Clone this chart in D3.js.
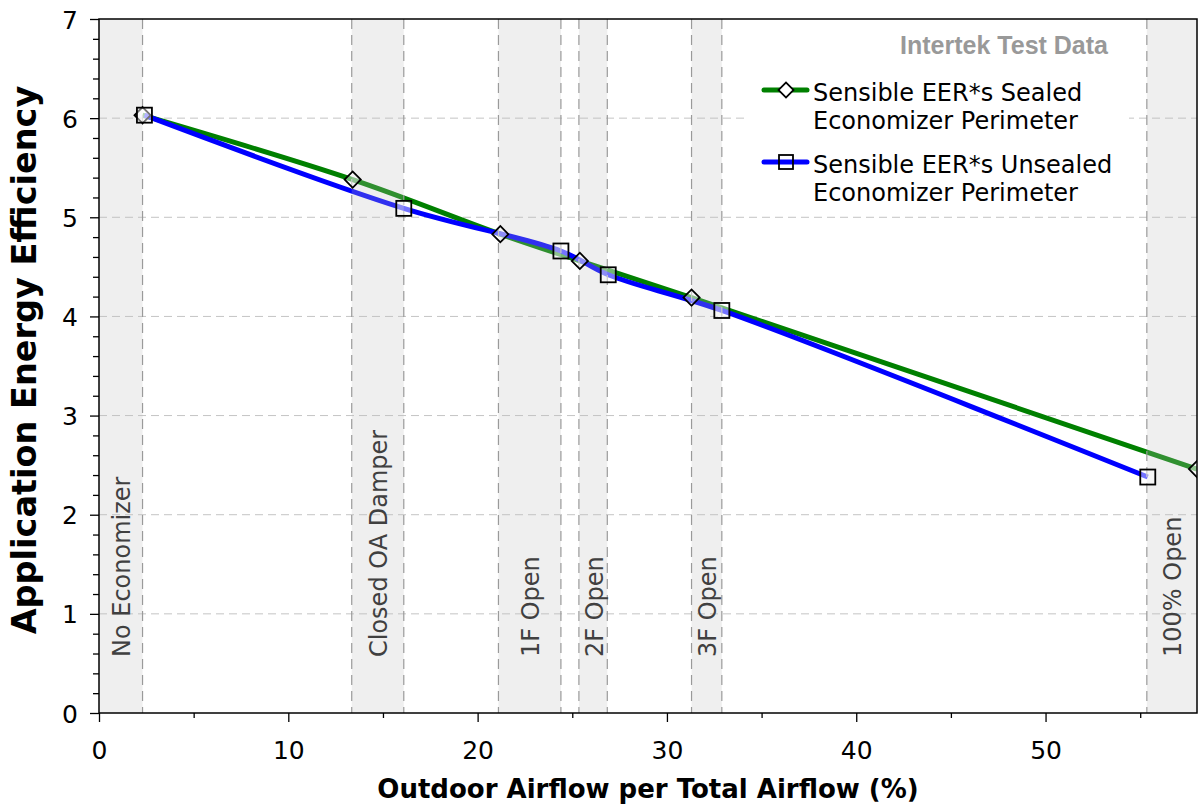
<!DOCTYPE html>
<html>
<head>
<meta charset="utf-8">
<script src="https://cdn.jsdelivr.net/npm/d3@7"></script>
<style>
  body { margin: 0; background: #fff; }
  svg { display: block; font-family: "DejaVu Sans", Verdana, sans-serif; }
</style>
</head>
<body>
<div id="chart"></div>
<script>
// data
const sealedX = [2.3, 13.4, 21.2, 25.4, 31.3, 58];
const sealedY = [6.03, 5.38, 4.83, 4.56, 4.19, 2.46];
const unsealedX = [2.4, 16.1, 24.4, 26.9, 32.9, 55.4];
const unsealedY = [6.03, 5.09, 4.66, 4.42, 4.06, 2.38];
const bandLabels = ['No Economizer', 'Closed OA Damper', '1F Open', '2F Open', '3F Open', '100% Open'];
const bandStart = [0, 13.35, 21.1, 25.35, 31.3, 55.35];
const bandEnd = [2.3, 16.1, 24.4, 26.85, 32.9, 58];
const xTicks = [0, 10, 20, 30, 40, 50];
const yTicks = [0, 1, 2, 3, 4, 5, 6, 7];

const W = 1199, H = 805;
const margin = { top: 19, right: 2, bottom: 92, left: 99 };
const width = W - margin.left - margin.right;
const height = H - margin.top - margin.bottom;

const svg = d3.select('#chart').append('svg')
    .attr('width', W)
    .attr('height', H);

const g = svg.append('g')
    .attr('transform', 'translate(' + margin.left + ',' + margin.top + ')');

const x = d3.scaleLinear().domain([0, 58]).range([0, width]);
const y = d3.scaleLinear().domain([0, 7]).range([height, 0]);

g.append('clipPath').attr('id', 'clip')
    .append('rect').attr('width', width).attr('height', height);

// horizontal grid
g.append('g')
    .selectAll('line')
    .data(yTicks.filter(d => d > 0 && d < 7))
    .enter().append('line')
    .attr('x1', 0).attr('x2', width)
    .attr('y1', d => y(d)).attr('y2', d => y(d))
    .attr('stroke', '#c4c4c4')
    .attr('stroke-width', 1)
    .attr('stroke-dasharray', '8,5');

// legend background hides grid behind it
g.append('rect')
    .attr('x', 646).attr('y', 8)
    .attr('width', 384).attr('height', 180)
    .attr('fill', '#fff');

// series lines
const line = d3.line()
    .x(d => x(d[0]))
    .y(d => y(d[1]))
    .curve(d3.curveCatmullRom.alpha(0.5));

const sealed = sealedX.map((v, i) => [v, sealedY[i]]);
const unsealed = unsealedX.map((v, i) => [v, unsealedY[i]]);

const plot = g.append('g').attr('clip-path', 'url(#clip)');

plot.append('path')
    .datum(sealed)
    .attr('d', line)
    .attr('fill', 'none')
    .attr('stroke', '#008000')
    .attr('stroke-width', 5);

plot.append('path')
    .datum(unsealed)
    .attr('d', line)
    .attr('fill', 'none')
    .attr('stroke', '#0000ff')
    .attr('stroke-width', 5);

// shaded bands sit over the lines (they look faded inside)
const bands = plot.append('g')
    .selectAll('g')
    .data(bandLabels.map((l, i) => ({ label: l, a: bandStart[i], b: bandEnd[i] })))
    .enter().append('g');

bands.append('rect')
    .attr('x', d => x(d.a))
    .attr('width', d => x(d.b) - x(d.a))
    .attr('y', 0)
    .attr('height', height)
    .attr('fill', 'rgba(190,190,190,0.25)');

bands.each(function (d) {
    const sel = d3.select(this);
    [d.a, d.b].forEach(v => {
        if (v <= 0 || v >= 58) return;
        sel.append('line')
            .attr('x1', x(v)).attr('x2', x(v))
            .attr('y1', 0).attr('y2', height)
            .attr('stroke', '#9a9a9a')
            .attr('stroke-width', 1.2)
            .attr('stroke-dasharray', '10,6');
    });
});

bands.append('text')
    .attr('transform', d => 'translate(' + (x((d.a + d.b) / 2) + 9.5) + ',' + (height - 56) + ') rotate(-90)')
    .attr('font-size', 24)
    .attr('fill', '#404040')
    .text(d => d.label);

// markers
plot.selectAll('.diamond')
    .data(sealed)
    .enter().append('path')
    .attr('class', 'diamond')
    .attr('transform', d => 'translate(' + x(d[0]) + ',' + y(d[1]) + ') rotate(45)')
    .attr('d', 'M-5.7,-5.7H5.7V5.7H-5.7Z')
    .attr('fill', 'rgba(255,255,255,0.45)')
    .attr('stroke', '#000')
    .attr('stroke-width', 1.8);

plot.selectAll('.square')
    .data(unsealed)
    .enter().append('rect')
    .attr('class', 'square')
    .attr('x', d => x(d[0]) - 7.5)
    .attr('y', d => y(d[1]) - 7.5)
    .attr('width', 15).attr('height', 15)
    .attr('fill', 'rgba(255,255,255,0.45)')
    .attr('stroke', '#000')
    .attr('stroke-width', 1.8);

// frame
g.append('rect')
    .attr('width', width).attr('height', height)
    .attr('fill', 'none')
    .attr('stroke', '#000')
    .attr('stroke-width', 1.5);

// axes
const xAxis = g.append('g')
    .attr('transform', 'translate(0,' + height + ')')
    .call(d3.axisBottom(x).tickValues(d3.range(0, 58, 5)).tickSize(9).tickFormat(d => xTicks.includes(d) ? d : ''));
xAxis.select('.domain').remove();
xAxis.selectAll('.tick line').attr('stroke', '#000').attr('stroke-width', 1.3)
    .attr('y2', d => xTicks.includes(d) ? 9 : 5);
xAxis.selectAll('.tick text')
    .attr('font-family', '"DejaVu Sans", Verdana, sans-serif')
    .attr('font-size', 25).attr('fill', '#000').attr('dy', 0).attr('y', 46);

const yAxis = g.append('g')
    .call(d3.axisLeft(y).tickValues(d3.range(0, 7.01, 0.2)).tickSize(8)
        .tickFormat(d => Math.abs(d - Math.round(d)) < 1e-6 ? Math.round(d) : ''));
yAxis.select('.domain').remove();
yAxis.selectAll('.tick line').attr('stroke', '#000').attr('stroke-width', 1.3)
    .attr('x2', d => Math.abs(d - Math.round(d)) < 1e-6 ? -9 : -6);
yAxis.selectAll('.tick text')
    .attr('font-family', '"DejaVu Sans", Verdana, sans-serif')
    .attr('font-size', 25).attr('fill', '#000').attr('x', -21).attr('dy', '0.36em');

// axis titles
svg.append('text')
    .attr('transform', 'translate(36,360) rotate(-90)')
    .attr('text-anchor', 'middle')
    .attr('font-weight', 'bold')
    .attr('font-size', 33.5)
    .text('Application Energy Efficiency');

svg.append('text')
    .attr('x', margin.left + width / 2)
    .attr('y', 798)
    .attr('text-anchor', 'middle')
    .attr('font-weight', 'bold')
    .attr('font-size', 26)
    .text('Outdoor Airflow per Total Airflow (%)');

// legend
const lg = svg.append('g');
lg.append('text')
    .attr('x', 1108).attr('y', 54)
    .attr('text-anchor', 'end')
    .attr('font-family', '"Liberation Sans", Arial, sans-serif')
    .attr('font-weight', 'bold')
    .attr('font-size', 25)
    .attr('fill', '#999')
    .text('Intertek Test Data');

const legendItems = [
    { color: '#008000', shape: 'diamond', lines: ['Sensible EER*s Sealed', 'Economizer Perimeter'], y: 90 },
    { color: '#0000ff', shape: 'square', lines: ['Sensible EER*s Unsealed', 'Economizer Perimeter'], y: 162 },
];
legendItems.forEach(it => {
    lg.append('line')
        .attr('x1', 764).attr('x2', 807)
        .attr('y1', it.y).attr('y2', it.y)
        .attr('stroke', it.color).attr('stroke-width', 5)
        .attr('stroke-linecap', 'round');
    if (it.shape === 'diamond') {
        lg.append('path')
            .attr('transform', 'translate(786,' + it.y + ') rotate(45)')
            .attr('d', 'M-5.3,-5.3H5.3V5.3H-5.3Z')
            .attr('fill', '#fff').attr('stroke', '#000').attr('stroke-width', 1.8);
    } else {
        lg.append('rect')
            .attr('x', 779).attr('y', it.y - 7).attr('width', 14).attr('height', 14)
            .attr('fill', 'none').attr('stroke', '#000').attr('stroke-width', 1.8);
    }
    it.lines.forEach((t, i) => {
        lg.append('text')
            .attr('x', 813).attr('y', it.y + 10.5 + i * 28)
            .attr('font-size', 24)
            .attr('fill', '#000')
            .text(t);
    });
});
</script>
</body>
</html>
